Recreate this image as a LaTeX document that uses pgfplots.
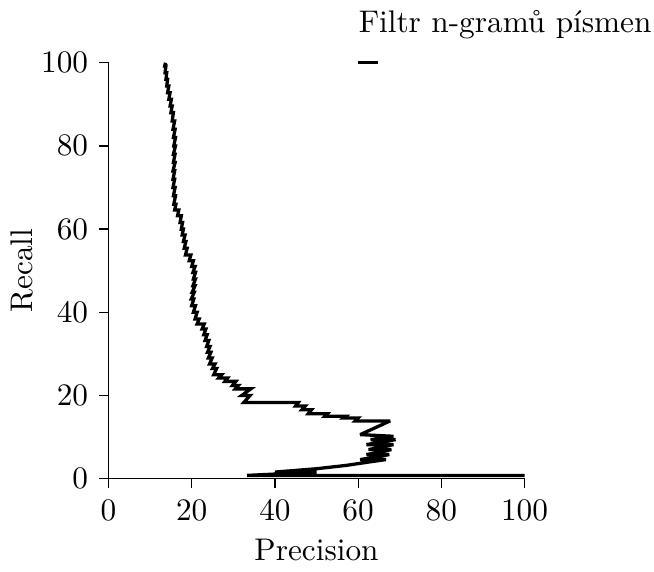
\documentclass[border=0pt]{standalone}
\usepackage{pgfplots}
\pgfplotsset{compat=1.18}

\begin{document}
\begin{tikzpicture}
\begin{axis}[
    scale only axis,
    width=133pt,
    height=133pt,
    xmin=0, xmax=100,
    ymin=0, ymax=100,
    xtick={0,20,...,100},
    ytick={0,20,...,100},
    axis x line*=bottom,
    axis y line*=left,
    axis line style={-, line width=0.4pt},
    tick align=outside,
    major tick length=3pt,
    tick style={black, line width=0.4pt},
    xticklabel style={yshift=-0.3pt},
    xlabel={Precision},
    ylabel={Recall},
    xlabel style={name=xlab, yshift=0.8pt},
    ylabel style={name=ylab, yshift=-4.4pt},
    clip=false,
]
\addplot[black, line width=1.05pt, line join=miter, miter limit=4] coordinates {
    (100,0.8) (50,0.8) (33.3,0.8) (50,1.6) (40,1.6) (50,2.4)
    (57.1,3.2) (62.5,4.0) (66.7,4.6) (60.5,4.6)
    (67.5,5.8) (62.0,5.8) (68.0,7.0) (62.5,7.0) (68.5,8.2) (62.0,8.2)
    (69.0,9.4) (63.0,9.4) (68.5,10.2) (60.5,10.6)
    (67.7,13.9) (59.3,13.9) (60.0,14.6) (56.5,14.6) (57.0,15.0) (52.0,15.0)
    (52.6,15.6) (48.0,15.6) (48.8,16.6) (46.5,16.6) (47.3,17.5) (45.0,17.5)
    (45.6,18.3) (32.5,18.3)
    (34.0,20.0) (32.0,20.0) (34.2,21.6) (30.5,21.6) (31.2,22.4) (29.8,22.4)
    (30.6,23.4) (28.0,23.4) (28.6,24.2) (26.5,24.2) (27.2,25.0) (25.3,25.0)
    (26.0,26.5) (25.0,26.5) (25.6,27.6) (24.3,27.6) (24.9,29.0) (24.0,29.0)
    (24.6,30.4) (23.8,30.4) (24.4,31.8) (23.6,31.8) (24.1,33.2) (23.2,33.2)
    (23.7,34.6) (22.9,34.6) (23.4,36.0) (22.5,36.0) (23.0,37.2) (21.3,37.2)
    (21.8,38.4) (20.8,38.4)
    (21.3,40.0) (20.4,40.0) (20.9,41.6) (20.0,41.6) (20.5,43.2) (19.9,43.2)
    (20.6,44.8) (20.1,44.8) (20.8,46.4) (20.3,46.4) (20.9,48.0) (20.4,48.0)
    (20.9,49.6) (20.3,49.6) (20.8,51.0) (20.0,51.0) (20.4,52.4) (19.4,52.4)
    (19.8,53.8) (18.5,53.8)
    (18.9,55.4) (18.2,55.4) (18.6,57.0) (18.0,57.0) (18.4,58.6) (17.7,58.6)
    (18.0,60.0) (17.5,60.0) (17.8,61.6) (17.2,61.6) (17.5,63.2) (16.6,63.2)
    (16.9,64.6) (15.9,64.6) (16.2,66.0) (15.7,66.0)
    (16.1,68.0) (15.6,68.0) (16.0,70.0) (15.5,70.0) (15.9,72.0) (15.5,72.0)
    (15.9,74.0) (15.5,74.0) (16.0,76.0) (15.6,76.0) (16.0,78.0) (15.6,78.0)
    (16.1,80.0) (15.7,80.0) (16.1,82.0) (15.6,82.0) (16.0,84.0) (15.5,84.0)
    (15.9,86.0) (15.3,86.0) (15.6,88.0) (15.0,88.0)
    (15.3,89.6) (14.8,89.6) (15.1,91.2) (14.5,91.2) (14.8,92.8) (14.2,92.8)
    (14.5,94.4) (14.0,94.4) (14.2,96.0) (13.8,96.0) (14.0,97.6) (13.6,97.6)
    (13.8,99.2) (13.5,99.2) (13.7,100)
};
% legend: text above, short line below
\node[anchor=base west, inner sep=0pt, name=leg] at ([yshift=9.8pt]rel axis cs:0.6,1) {Filtr n-gramů písmen};
\draw[black, line width=1pt] (rel axis cs:0.6,1) -- ([xshift=6.4pt]rel axis cs:0.6,1);
\end{axis}
\pgfresetboundingbox
\useasboundingbox (ylab.north |- xlab.south) rectangle ([xshift=0.6pt, yshift=3pt]leg.north east);
\end{tikzpicture}
\end{document}
